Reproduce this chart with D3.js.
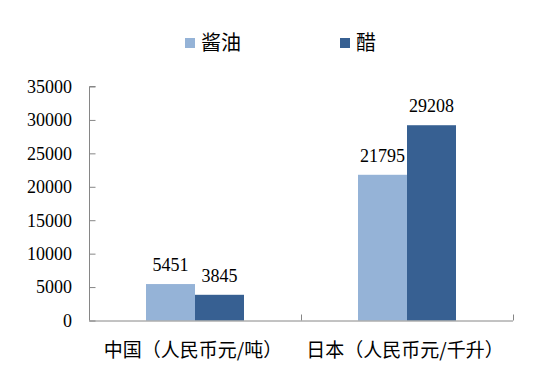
<!DOCTYPE html>
<html><head><meta charset="utf-8">
<script src="https://cdn.jsdelivr.net/npm/d3@7"></script>
<style>html,body{margin:0;padding:0;background:#fff;}</style>
</head><body>
<script>
const categories = ["中国（人民币元/吨）", "日本（人民币元/千升）"];
const seriesNames = ["酱油", "醋"];
const soySauce = [5451, 21795];
const vinegar = [3845, 29208];
const yTicks = [0, 5000, 10000, 15000, 20000, 25000, 30000, 35000];
const colors = ["#95B3D7", "#376092"];

const W = 540, H = 367;
const margin = {left: 89, right: 27, top: 86.5, bottom: 46.5};
const svg = d3.select("body").append("svg").attr("width", W).attr("height", H);

const x = d3.scaleBand().domain(categories).range([margin.left, W - margin.right]);
const y = d3.scaleLinear().domain([0, 35000]).range([H - margin.bottom, margin.top]);
const barW = 49;
const xs = d3.scaleBand().domain(seriesNames).range([0, barW * 2]);

const series = [soySauce, vinegar];
const g = svg.append("g");
series.forEach((vals, si) => {
  g.selectAll(null).data(categories).enter().append("rect")
    .attr("x", c => x(c) + x.bandwidth()/2 - barW + xs(seriesNames[si]))
    .attr("y", (c, i) => y(vals[i]))
    .attr("width", xs.bandwidth())
    .attr("height", (c, i) => y(0) - y(vals[i]))
    .attr("fill", colors[si]);
  g.selectAll(null).data(categories).enter().append("text")
    .attr("x", c => x(c) + x.bandwidth()/2 - barW + xs(seriesNames[si]) + xs.bandwidth()/2)
    .attr("y", (c, i) => y(vals[i]) - 13)
    .attr("text-anchor", "middle")
    .attr("font-family", "'Liberation Serif', serif")
    .attr("font-size", 18)
    .attr("fill", "#000")
    .text((c, i) => vals[i]);
});

// Y axis
const yAxis = d3.axisRight(y).tickValues(yTicks).tickSize(6).tickFormat("");
const ya = svg.append("g").attr("transform", `translate(${margin.left},0)`).call(yAxis);
ya.select(".domain").attr("stroke", "#868686").attr("d", `M6.5,${y(35000)}H0.5V${y(0)}`);
ya.selectAll(".tick line").attr("stroke", "#868686").attr("transform", "translate(0.5,0)");
svg.append("g").selectAll("text").data(yTicks).enter().append("text")
  .attr("x", 72).attr("y", d => y(d)).attr("dy", "0.35em")
  .attr("text-anchor", "end")
  .attr("font-family", "'Liberation Serif', serif").attr("font-size", 18)
  .text(d => d);

// X axis
const xTickPos = [margin.left, x(categories[1]), W - margin.right];
svg.append("line").attr("x1", margin.left).attr("x2", W - margin.right)
  .attr("y1", y(0) + 0.5).attr("y2", y(0) + 0.5).attr("stroke", "#868686");
svg.selectAll(null).data(xTickPos.slice(1)).enter().append("line")
  .attr("x1", d => Math.round(d) + 0.5).attr("x2", d => Math.round(d) + 0.5)
  .attr("y1", y(0) - 6).attr("y2", y(0)).attr("stroke", "#868686");
svg.selectAll(null).data(categories).enter().append("text")
  .attr("x", c => x(c) + x.bandwidth()/2 - 2)
  .attr("y", 357)
  .attr("text-anchor", "middle")
  .attr("font-family", "'Noto Sans CJK SC', sans-serif").attr("font-size", 19)
  .text(c => c);

// Legend
const legendX = [185, 340];
seriesNames.forEach((n, i) => {
  svg.append("rect").attr("x", legendX[i]).attr("y", 38).attr("width", 10).attr("height", 10).attr("fill", colors[i]);
  svg.append("text").attr("x", legendX[i] + 16).attr("y", 50)
    .attr("font-family", "'Noto Sans CJK SC', sans-serif").attr("font-size", 20)
    .text(n);
});
</script>
</body></html>
